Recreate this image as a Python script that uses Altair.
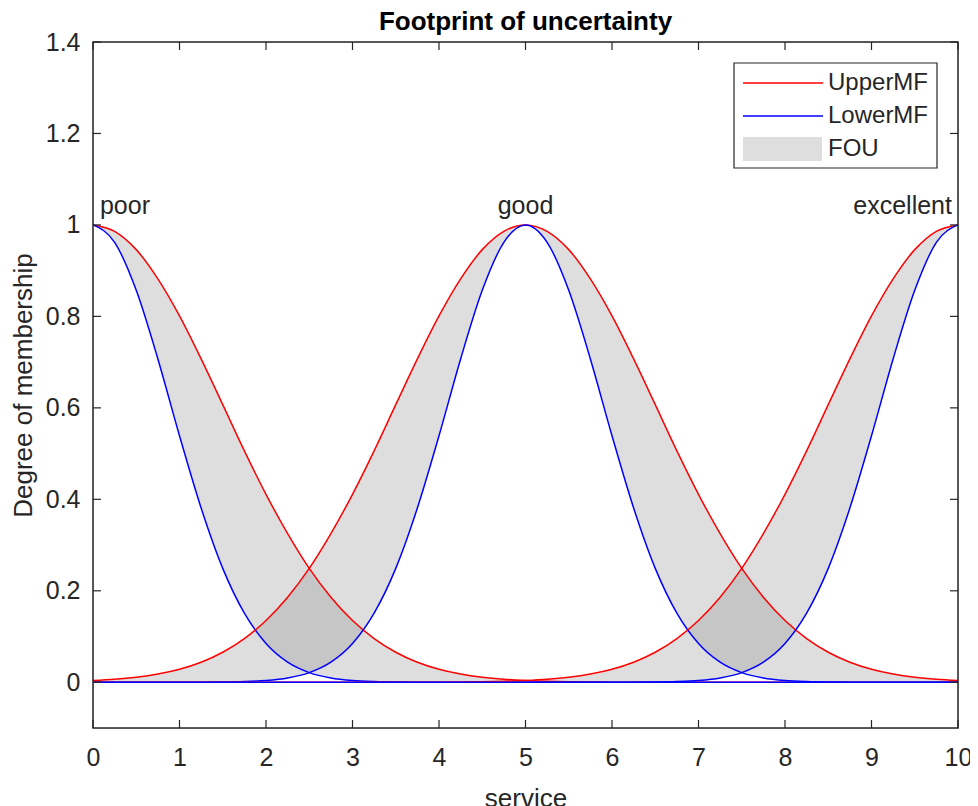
import altair as alt
import pandas as pd

# sample positions along "service"
x_vals = [0, 0.25, 0.5, 0.75, 1, 1.25, 1.5, 1.75, 2, 2.25, 2.5, 2.75, 3, 3.25, 3.5, 3.75,
          4, 4.25, 4.5, 4.75, 5, 5.25, 5.5, 5.75, 6, 6.25, 6.5, 6.75, 7, 7.25, 7.5, 7.75,
          8, 8.25, 8.5, 8.75, 9, 9.25, 9.5, 9.75, 10]

mf_names = ["poor", "good", "excellent"]

upper_poor = [1, .986, .946, .882, .801, .707, .607, .506, .411, .325, .249, .186, .135, .0956,
              .0657, .0439, .0286, .0181, .0111, .0066, .0039, .0022, .0012, .0006, .0003, .0002,
              .0001, 0, 0, 0, 0, 0, 0, 0, 0, 0, 0, 0, 0, 0, 0]
upper_good = [.0039, .0066, .0111, .0181, .0286, .0439, .0657, .0956, .135, .186, .249, .325,
              .411, .506, .607, .707, .801, .882, .946, .986, 1, .986, .946, .882, .801, .707,
              .607, .506, .411, .325, .249, .186, .135, .0956, .0657, .0439, .0286, .0181,
              .0111, .0066, .0039]
upper_excellent = [0, 0, 0, 0, 0, 0, 0, 0, 0, 0, 0, 0, 0, 0, .0001, .0002, .0003, .0006, .0012,
                   .0022, .0039, .0066, .0111, .0181, .0286, .0439, .0657, .0956, .135, .186,
                   .249, .325, .411, .506, .607, .707, .801, .882, .946, .986, 1]

lower_poor = [1, .962, .857, .707, .539, .381, .249, .151, .0847, .0439, .0211, .0094, .0039,
              .0015, .0005, .0002, .0001, 0, 0, 0, 0, 0, 0, 0, 0, 0, 0, 0, 0, 0, 0, 0, 0, 0, 0,
              0, 0, 0, 0, 0, 0]
lower_good = [0, 0, 0, 0, .0001, .0002, .0005, .0015, .0039, .0094, .0211, .0439, .0847, .151,
              .249, .381, .539, .707, .857, .962, 1, .962, .857, .707, .539, .381, .249, .151,
              .0847, .0439, .0211, .0094, .0039, .0015, .0005, .0002, .0001, 0, 0, 0, 0]
lower_excellent = [0, 0, 0, 0, 0, 0, 0, 0, 0, 0, 0, 0, 0, 0, 0, 0, 0, 0, 0, 0, 0, 0, 0, 0, .0001,
                   .0002, .0005, .0015, .0039, .0094, .0211, .0439, .0847, .151, .249, .381,
                   .539, .707, .857, .962, 1]

label_names = ["poor", "good", "excellent"]
label_x = [0.08, 5.0, 9.93]
label_y = [1.025, 1.025, 1.025]

legend_labels = ["UpperMF", "LowerMF", "FOU"]

x_ticks = [0, 1, 2, 3, 4, 5, 6, 7, 8, 9, 10]
y_ticks = [0, 0.2, 0.4, 0.6, 0.8, 1.0, 1.2, 1.4]

uppers = [upper_poor, upper_good, upper_excellent]
lowers = [lower_poor, lower_good, lower_excellent]

rows = []
for name, up, lo in zip(mf_names, uppers, lowers):
    for xv, u, l in zip(x_vals, up, lo):
        rows.append({"x": xv, "mf": name, "upper": u, "lower": l})
df = pd.DataFrame(rows)

long_rows = []
for r in rows:
    long_rows.append({"x": r["x"], "mf": r["mf"], "bound": "UpperMF", "value": r["upper"]})
    long_rows.append({"x": r["x"], "mf": r["mf"], "bound": "LowerMF", "value": r["lower"]})
df_long = pd.DataFrame(long_rows)

W, H = 865, 686
TL = 8  # tick length in px
FONT = "Liberation Sans"
TXT = "#262626"

x_scale = alt.Scale(domain=[0, 10], nice=False, zero=False)
y_scale = alt.Scale(domain=[-0.1, 1.4], nice=False, zero=False)

x_axis = alt.Axis(values=x_ticks, format="d", title="service", labelFontSize=25,
                  labelColor=TXT, labelFont=FONT, domain=False, ticks=False,
                  labelFlush=False, labelPadding=17, grid=False, titleFontSize=26,
                  titleFont=FONT, titleFontWeight="normal", titleColor=TXT, titlePadding=15)
y_axis = alt.Axis(values=y_ticks, format="~g", title="Degree of membership", labelFontSize=25,
                  labelColor=TXT, labelFont=FONT, domain=False, ticks=False,
                  labelFlush=False, labelPadding=13, grid=False, titleFontSize=26,
                  titleFont=FONT, titleFontWeight="normal", titleColor=TXT, titlePadding=9)

area = alt.Chart(df).mark_area(interpolate="monotone", fill="#858585", opacity=0.27).encode(
    x=alt.X("x:Q", scale=x_scale, axis=x_axis),
    y=alt.Y("lower:Q", scale=y_scale, axis=y_axis),
    y2="upper:Q",
    detail="mf:N",
)

lines = alt.Chart(df_long).mark_line(interpolate="monotone", strokeWidth=1.5).encode(
    x=alt.X("x:Q", scale=x_scale),
    y=alt.Y("value:Q", scale=y_scale),
    color=alt.Color("bound:N", scale=alt.Scale(domain=["UpperMF", "LowerMF"],
                                               range=["#ff0000", "#0000ff"]), legend=None),
    detail="mf:N",
)

# inward tick marks on all four sides (MATLAB box style)
xt_df = pd.DataFrame({"t": x_ticks})
yt_df = pd.DataFrame({"t": y_ticks})
tick_style = dict(color=TXT, strokeWidth=1.2)
xt_bottom = alt.Chart(xt_df).mark_rule(**tick_style).encode(
    x=alt.X("t:Q", scale=x_scale), y=alt.value(H), y2=alt.value(H - TL))
xt_top = alt.Chart(xt_df).mark_rule(**tick_style).encode(
    x=alt.X("t:Q", scale=x_scale), y=alt.value(0), y2=alt.value(TL))
yt_left = alt.Chart(yt_df).mark_rule(**tick_style).encode(
    y=alt.Y("t:Q", scale=y_scale), x=alt.value(0), x2=alt.value(TL))
yt_right = alt.Chart(yt_df).mark_rule(**tick_style).encode(
    y=alt.Y("t:Q", scale=y_scale), x=alt.value(W), x2=alt.value(W - TL))

lab_df = pd.DataFrame({"name": label_names, "x": label_x, "y": label_y})
aligns = ["left", "center", "right"]
text_layers = []
for i, al in enumerate(aligns):
    text_layers.append(
        alt.Chart(lab_df.iloc[[i]]).mark_text(align=al, baseline="alphabetic", fontSize=25,
                                             font=FONT, color=TXT).encode(
            x=alt.X("x:Q", scale=x_scale), y=alt.Y("y:Q", scale=y_scale), text="name:N")
    )

one = pd.DataFrame({"a": [0]})
frame = alt.Chart(one).mark_rect(fill="transparent", stroke=TXT, strokeWidth=1.5).encode(
    x=alt.value(0), x2=alt.value(W), y=alt.value(0), y2=alt.value(H))
leg_box = alt.Chart(one).mark_rect(fill="white", stroke=TXT, strokeWidth=1.2).encode(
    x=alt.value(641), x2=alt.value(844), y=alt.value(21), y2=alt.value(126))
leg_red = alt.Chart(one).mark_rule(color="#ff0000", strokeWidth=1.5).encode(
    x=alt.value(650), x2=alt.value(730), y=alt.value(41))
leg_blue = alt.Chart(one).mark_rule(color="#0000ff", strokeWidth=1.5).encode(
    x=alt.value(650), x2=alt.value(730), y=alt.value(74))
leg_fou = alt.Chart(one).mark_rect(fill="#dedede").encode(
    x=alt.value(650), x2=alt.value(729), y=alt.value(95), y2=alt.value(119))
leg_text = []
for lbl, yy in zip(legend_labels, [41, 74, 107]):
    leg_text.append(alt.Chart(one).mark_text(align="left", baseline="middle", fontSize=24,
                                             font=FONT, color=TXT).encode(
        x=alt.value(735), y=alt.value(yy), text=alt.value(lbl)))

chart = alt.layer(area, lines, xt_bottom, xt_top, yt_left, yt_right, frame, *text_layers,
                  leg_box, leg_red, leg_blue, leg_fou, *leg_text).properties(
    width=W, height=H,
    title=alt.TitleParams("Footprint of uncertainty", fontSize=26, fontWeight="bold",
                          color="black", font=FONT, offset=-5),
    autosize=alt.AutoSizeParams(type="none"),
    padding={"left": 85, "top": 34, "right": 12, "bottom": 90},
).configure_view(stroke="transparent", strokeWidth=0).configure(background="white")

chart.save("out.html", embed_options={"renderer": "svg", "actions": False})
